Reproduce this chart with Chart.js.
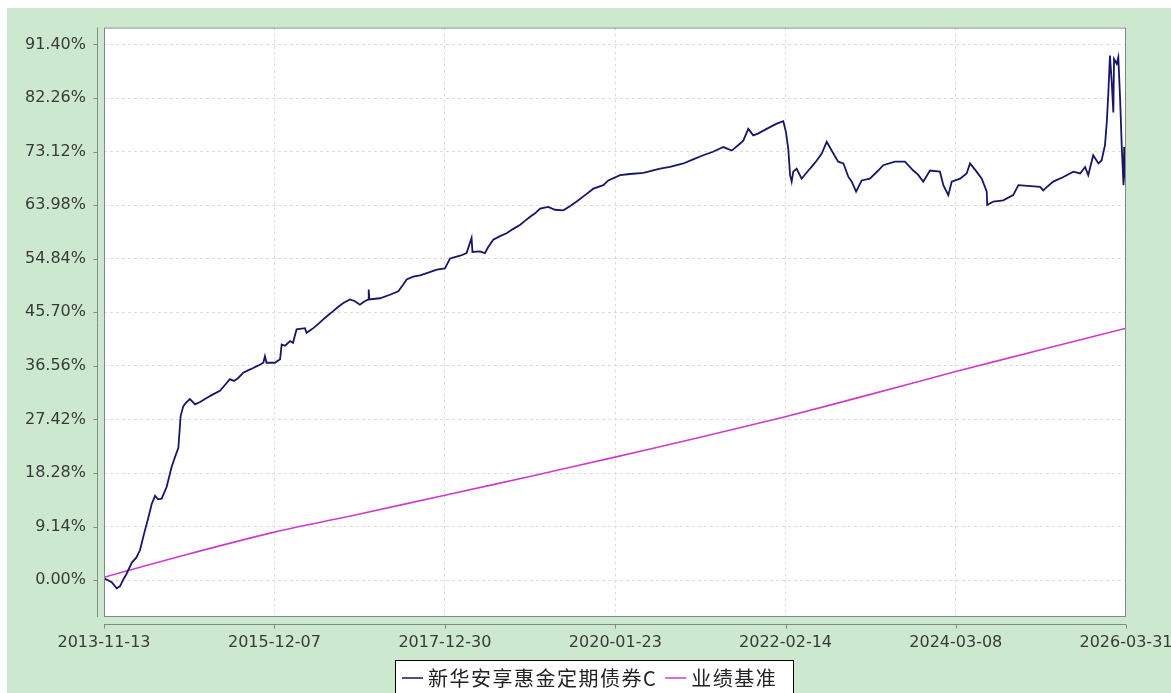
<!DOCTYPE html>
<html>
<head>
<meta charset="utf-8">
<script src="https://cdn.jsdelivr.net/npm/chart.js@4.4.1/dist/chart.umd.min.js"></script>
<style>
  html, body { margin: 0; padding: 0; background: #fff; }
  #wrap { width: 1171px; height: 693px; }
</style>
</head>
<body>
<div id="wrap"><canvas id="myChart" width="1171" height="693"></canvas></div>
<script>
// tick labels
const xTickLabels = ['2013-11-13', '2015-12-07', '2017-12-30', '2020-01-23', '2022-02-14', '2024-03-08', '2026-03-31'];
const yTicks = [0, 9.14, 18.28, 27.42, 36.56, 45.70, 54.84, 63.98, 73.12, 82.26, 91.40];

// fund: 新华安享惠金定期债券C (cumulative return, %)
const fundDates = [
  '2013-11-13', '2013-12-01', '2013-12-18', '2014-01-08', '2014-01-23', '2014-02-09', '2014-02-21', '2014-03-16',
  '2014-04-04', '2014-04-21', '2014-05-13', '2014-05-27', '2014-06-12', '2014-06-27', '2014-07-10', '2014-07-26',
  '2014-08-17', '2014-09-08', '2014-09-23', '2014-10-08', '2014-10-18', '2014-10-30', '2014-11-11', '2014-11-28',
  '2014-12-21', '2015-01-12', '2015-02-10', '2015-03-10', '2015-04-10', '2015-05-02', '2015-05-24', '2015-06-11',
  '2015-06-30', '2015-07-22', '2015-08-12', '2015-09-04', '2015-09-25', '2015-10-19', '2015-10-26', '2015-11-02',
  '2015-12-09', '2016-01-01', '2016-01-08', '2016-01-23', '2016-02-14', '2016-02-27', '2016-03-14', '2016-04-20',
  '2016-04-27', '2016-05-12', '2016-05-27', '2016-06-17', '2016-07-10', '2016-07-31', '2016-08-23', '2016-09-13',
  '2016-10-07', '2016-11-05', '2016-11-27', '2016-12-19', '2017-01-06', '2017-01-25', '2017-01-27', '2017-01-30',
  '2017-03-18', '2017-05-01', '2017-06-07', '2017-06-28', '2017-07-14', '2017-08-12', '2017-09-11', '2017-10-11',
  '2017-11-24', '2017-12-30', '2018-01-22', '2018-02-20', '2018-03-11', '2018-04-05', '2018-04-27', '2018-05-01',
  '2018-06-03', '2018-06-25', '2018-07-09', '2018-08-01', '2018-08-31', '2018-09-29', '2018-10-27', '2018-11-27',
  '2018-12-19', '2019-01-11', '2019-02-02', '2019-02-24', '2019-04-01', '2019-05-01', '2019-06-07', '2019-07-06',
  '2019-08-05', '2019-09-11', '2019-10-18', '2019-12-01', '2019-12-23', '2020-02-13', '2020-03-28', '2020-05-26',
  '2020-08-08', '2020-09-21', '2020-11-19', '2021-01-01', '2021-02-15', '2021-03-30', '2021-05-15', '2021-06-21',
  '2021-07-19', '2021-08-11', '2021-09-02', '2021-09-24', '2021-10-15', '2021-11-08', '2021-12-07', '2022-01-06',
  '2022-02-04', '2022-02-16', '2022-02-26', '2022-03-06', '2022-03-13', '2022-03-20', '2022-04-04', '2022-04-26',
  '2022-05-26', '2022-06-11', '2022-07-02', '2022-07-24', '2022-08-15', '2022-09-06', '2022-09-21', '2022-10-05',
  '2022-10-28', '2022-11-19', '2022-12-04', '2022-12-23', '2023-01-17', '2023-02-22', '2023-03-31', '2023-04-22',
  '2023-06-13', '2023-07-27', '2023-09-02', '2023-09-23', '2023-10-16', '2023-11-15', '2023-12-29', '2024-01-13',
  '2024-02-04', '2024-02-19', '2024-03-27', '2024-04-25', '2024-05-10', '2024-06-08', '2024-07-01', '2024-07-23',
  '2024-07-25', '2024-08-21', '2024-10-04', '2024-11-17', '2024-12-10', '2025-03-16', '2025-03-30', '2025-04-07',
  '2025-05-13', '2025-06-27', '2025-08-10', '2025-09-09', '2025-10-01', '2025-10-15', '2025-11-06', '2025-11-29',
  '2025-12-13', '2025-12-28', '2026-01-05', '2026-01-12', '2026-01-19', '2026-01-27', '2026-02-03', '2026-02-06',
  '2026-02-18', '2026-02-25', '2026-03-05', '2026-03-12', '2026-03-20', '2026-03-23', '2026-03-27', '2026-03-31'
];
const fundValues = [
  0.3, 0.0, -0.4, -1.4, -1.0, 0.3, 1.1, 3.0,
  3.8, 5.1, 8.5, 10.5, 13.0, 14.4, 13.8, 13.9,
  15.9, 19.3, 21.0, 22.6, 28.0, 29.7, 30.3, 30.9,
  30.0, 30.4, 31.1, 31.7, 32.3, 33.3, 34.3, 34.0,
  34.5, 35.4, 35.8, 36.2, 36.6, 37.1, 38.2, 37.1,
  37.1, 37.7, 40.2, 40.0, 40.8, 40.5, 42.8, 43.0,
  42.2, 42.6, 43.0, 43.7, 44.5, 45.2, 45.9, 46.6,
  47.3, 47.9, 47.6, 47.0, 47.5, 47.9, 49.6, 47.9,
  48.1, 48.7, 49.3, 50.4, 51.3, 51.8, 52.0, 52.4,
  53.0, 53.2, 54.9, 55.2, 55.4, 55.8, 58.4, 56.0,
  56.1, 55.8, 56.8, 58.1, 58.7, 59.2, 59.9, 60.6,
  61.3, 62.0, 62.6, 63.4, 63.7, 63.2, 63.1, 63.8,
  64.6, 65.7, 66.8, 67.4, 68.2, 69.1, 69.3, 69.5,
  70.2, 70.5, 71.1, 71.8, 72.5, 73.1, 73.9, 73.3,
  74.2, 75.0, 77.0, 75.9, 76.2, 76.7, 77.3, 77.9,
  78.3, 76.4, 73.6, 69.1, 68.0, 69.7, 70.2, 68.5,
  69.9, 70.6, 71.6, 72.8, 74.8, 73.3, 72.3, 71.4,
  71.1, 68.8, 68.0, 66.3, 68.2, 68.5, 69.9, 70.8,
  71.4, 71.4, 69.9, 69.2, 68.0, 69.9, 69.7, 67.4,
  65.7, 68.0, 68.5, 69.4, 71.1, 69.7, 68.5, 66.3,
  64.0, 64.6, 64.8, 65.7, 67.4, 67.1, 66.5, 66.8,
  68.0, 68.8, 69.7, 69.4, 70.5, 69.1, 72.5, 71.1,
  71.6, 74.2, 78.1, 83.2, 89.5, 84.9, 79.8, 88.9,
  88.1, 89.2, 82.1, 74.2, 67.4, 73.9, 69.7, 67.5
];

// benchmark: 业绩基准
const benchDates = ['2013-11-13', '2014-11-06', '2015-12-07', '2016-12-18', '2017-12-30', '2019-01-10', '2020-01-22',
  '2021-02-02', '2022-02-13', '2023-02-25', '2024-03-08', '2025-03-20', '2026-03-31'];
const benchValues = [0.5, 4.3, 8.2, 11.3, 14.5, 17.7, 21.0, 24.4, 27.9, 31.7, 35.6, 39.3, 43.0];

const seriesNames = ['新华安享惠金定期债券C', '业绩基准'];
const seriesColors = ['#16166a', '#cc3ccc'];

Chart.defaults.font.family = 'DejaVu Sans';
Chart.defaults.font.size = 16;
Chart.defaults.color = '#3a3a3a';

const toPoints = (dates, vals) => dates.map((d, i) => ({ x: Date.parse(d), y: vals[i] }));

const frame = {
  id: 'frame',
  beforeDraw(chart) {
    const { ctx, chartArea: a } = chart;
    ctx.save();
    ctx.fillStyle = '#ffffff';
    ctx.fillRect(0, 0, chart.width, chart.height);
    ctx.fillStyle = '#cce8cf';
    ctx.fillRect(7, 8, chart.width - 7, chart.height - 8);
    ctx.fillStyle = '#ffffff';
    ctx.fillRect(a.left, a.top, a.width, a.height);
    ctx.restore();
  },
  afterDraw(chart) {
    const { ctx, chartArea: a, scales } = chart;
    ctx.save();
    ctx.strokeStyle = '#808a80';
    ctx.lineWidth = 1;
    ctx.strokeRect(a.left + 0.5, a.top + 0.5, a.width - 1, a.height - 1);

    // axis lines, a little away from the plot
    const ax = a.left - 6.5;
    ctx.beginPath();
    ctx.moveTo(ax, a.top);
    ctx.lineTo(ax, a.bottom);
    scales.y.ticks.forEach(t => {
      const py = Math.round(scales.y.getPixelForValue(t.value)) + 0.5;
      ctx.moveTo(ax - 4, py);
      ctx.lineTo(ax, py);
    });
    const ay = a.bottom + 7.5;
    ctx.moveTo(a.left, ay);
    ctx.lineTo(a.right, ay);
    scales.x.ticks.forEach(t => {
      const px = Math.round(scales.x.getPixelForValue(t.value)) + 0.5;
      ctx.moveTo(px, ay);
      ctx.lineTo(px, ay + 4);
    });
    ctx.stroke();

    // legend
    const lx = 395, ly = 660;
    ctx.fillStyle = '#ffffff';
    ctx.fillRect(lx, ly, 398, 40);
    ctx.strokeStyle = '#000000';
    ctx.strokeRect(lx + 0.5, ly + 0.5, 398, 40);
    ctx.font = '20px "Noto Sans CJK SC"';
    ctx.letterSpacing = '1.5px';
    ctx.textBaseline = 'middle';
    ctx.fillStyle = '#222222';
    ctx.lineWidth = 1.5;
    let x = lx + 7;
    seriesNames.forEach((name, i) => {
      ctx.strokeStyle = seriesColors[i];
      ctx.beginPath();
      ctx.moveTo(x, ly + 18);
      ctx.lineTo(x + 21, ly + 18);
      ctx.stroke();
      ctx.fillText(name, x + 26, ly + 18);
      x += 26 + ctx.measureText(name).width + 8;
    });
    ctx.restore();
  }
};

new Chart(document.getElementById('myChart'), {
  type: 'line',
  data: {
    datasets: [
      { label: seriesNames[0], data: toPoints(fundDates, fundValues), borderColor: seriesColors[0], borderWidth: 1.8, pointRadius: 0, tension: 0 },
      { label: seriesNames[1], data: toPoints(benchDates, benchValues), borderColor: seriesColors[1], borderWidth: 1.6, pointRadius: 0, tension: 0.3 }
    ]
  },
  options: {
    responsive: false,
    animation: false,
    devicePixelRatio: 1,
    layout: { padding: { left: 0, top: 25, right: 45, bottom: 0 } },
    plugins: { legend: { display: false }, tooltip: { enabled: false } },
    scales: {
      x: {
        type: 'linear',
        min: Date.parse(xTickLabels[0]),
        max: Date.parse(xTickLabels[xTickLabels.length - 1]),
        afterBuildTicks: s => { s.ticks = xTickLabels.map(l => ({ value: Date.parse(l) })); },
        afterFit: s => { s.height = 76; s.paddingLeft = 0; s.paddingRight = 0; },
        ticks: { autoSkip: false, maxRotation: 0, padding: 16, callback: (v, i) => xTickLabels[i] },
        grid: { color: '#dddddd', drawTicks: false },
        border: { display: false, dash: [3, 3] }
      },
      y: {
        min: -6.28,
        max: 94.28,
        afterBuildTicks: s => { s.ticks = yTicks.map(v => ({ value: v })); },
        afterFit: s => { s.width = 104; },
        ticks: { padding: 18, callback: v => v.toFixed(2) + '%' },
        grid: { color: '#dddddd', drawTicks: false },
        border: { display: false, dash: [3, 3] }
      }
    }
  },
  plugins: [frame]
});
</script>
</body>
</html>
